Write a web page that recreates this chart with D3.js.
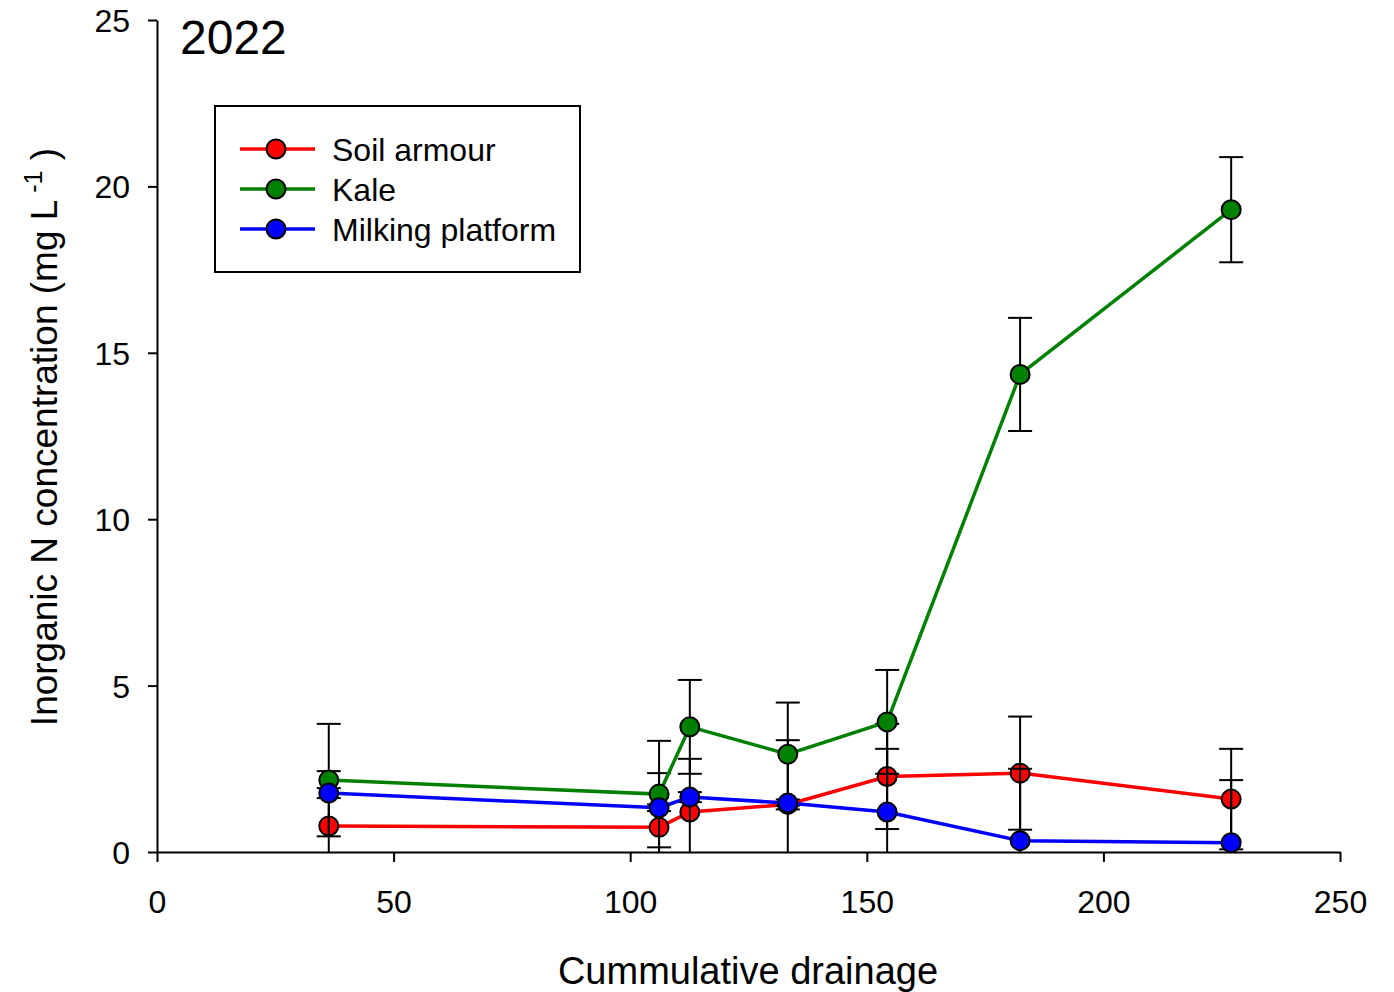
<!DOCTYPE html>
<html>
<head>
<meta charset="utf-8">
<script src="https://cdn.jsdelivr.net/npm/d3@7"></script>
<style>
  body { margin: 0; background: #fff; }
  svg { font-family: Arial, "Liberation Sans", sans-serif; }
</style>
</head>
<body>
<svg id="chart"></svg>
<script>
// cumulative drainage at each sampling
const drainage = [36.3, 106.1, 112.6, 133.3, 154.3, 182.4, 227.0];

const soilArmour = [0.78, 0.74, 1.20, 1.43, 2.27, 2.37, 1.59];
const soilArmourErr = [1.65, 1.63, 1.60, 0.15, 1.58, 1.70, 1.51];

const kale = [2.16, 1.74, 3.76, 2.94, 3.91, 14.35, 19.30];
const kaleErr = [1.69, 1.60, 1.41, 1.55, 1.56, 1.70, 1.58];

const milking = [1.77, 1.33, 1.65, 1.47, 1.20, 0.34, 0.28];
const milkingErr = [0.15, 0.10, 0.15, 1.89, 1.90, 2.16, 1.88];

const xTicks = [0, 50, 100, 150, 200, 250];
const yTicks = [0, 5, 10, 15, 20, 25];

const series = [
  { name: "Soil armour", color: "#ff0000", values: soilArmour, err: soilArmourErr },
  { name: "Kale", color: "#008000", values: kale, err: kaleErr },
  { name: "Milking platform", color: "#0000ff", values: milking, err: milkingErr }
];

const width = 1394, height = 992;
const svg = d3.select("#chart").attr("width", width).attr("height", height);

const x = d3.scaleLinear().domain([0, 250]).range([157, 1340]);
const y = d3.scaleLinear().domain([0, 25]).range([852, 20]);

// axes
const xAxis = svg.append("g")
  .attr("transform", `translate(0,${y(0)})`)
  .call(d3.axisBottom(x).tickValues(xTicks).tickSize(10).tickPadding(28).tickSizeOuter(0));
const yAxis = svg.append("g")
  .attr("transform", `translate(${x(0)},0)`)
  .call(d3.axisLeft(y).tickValues(yTicks).tickSize(9).tickPadding(18).tickSizeOuter(0));

[xAxis, yAxis].forEach(a => {
  a.select(".domain").attr("stroke", "#000").attr("stroke-width", 2);
  a.selectAll(".tick line").attr("stroke", "#000").attr("stroke-width", 2);
  a.selectAll(".tick text").attr("fill", "#000").style("font-size", "32px")
    .style("font-family", "Arial, 'Liberation Sans', sans-serif");
});
yAxis.selectAll(".tick text").attr("dy", "0.36em");

// axis titles
svg.append("text")
  .attr("x", 748).attr("y", 984)
  .attr("text-anchor", "middle")
  .style("font-size", "38px")
  .text("Cummulative drainage");

const yt = svg.append("text")
  .attr("transform", "translate(57,437) rotate(-90)")
  .attr("text-anchor", "middle")
  .style("font-size", "37px");
yt.append("tspan").text("Inorganic N concentration (mg L");
yt.append("tspan").attr("dy", "-15").style("font-size", "25px").text(" -1");
yt.append("tspan").attr("dy", "15").text(" )");

svg.append("text")
  .attr("x", 180).attr("y", 54)
  .style("font-size", "48px")
  .text("2022");

const line = d3.line().x((d, i) => x(drainage[i])).y(d => y(d));

function drawLine(s) {
  svg.append("path")
    .datum(s.values)
    .attr("fill", "none")
    .attr("stroke", s.color)
    .attr("stroke-width", 3.5)
    .attr("d", line);
}
function drawMarkers(s) {
  svg.append("g").selectAll("circle")
    .data(s.values)
    .join("circle")
    .attr("cx", (d, i) => x(drainage[i]))
    .attr("cy", d => y(d))
    .attr("r", 9.5)
    .attr("fill", s.color)
    .attr("stroke", "#000")
    .attr("stroke-width", 2);
}
function drawErrors(s) {
  const g = svg.append("g").attr("stroke", "#000").attr("stroke-width", 2);
  s.values.forEach((v, i) => {
    const cx = x(drainage[i]);
    const hi = v + s.err[i];
    const lo = Math.max(0, v - s.err[i]);
    g.append("line").attr("x1", cx).attr("x2", cx).attr("y1", y(hi)).attr("y2", y(lo));
    g.append("line").attr("x1", cx - 12).attr("x2", cx + 12).attr("y1", y(hi)).attr("y2", y(hi));
    if (v - s.err[i] > 0) {
      g.append("line").attr("x1", cx - 12).attr("x2", cx + 12).attr("y1", y(lo)).attr("y2", y(lo));
    }
  });
}

// draw order: soil armour under the error bars, others above
drawLine(series[0]);
drawMarkers(series[0]);
series.forEach(drawErrors);
drawLine(series[1]);
drawMarkers(series[1]);
drawLine(series[2]);
drawMarkers(series[2]);

// legend
const legend = svg.append("g");
legend.append("rect")
  .attr("x", 215).attr("y", 106).attr("width", 365).attr("height", 166)
  .attr("fill", "#fff").attr("stroke", "#000").attr("stroke-width", 2);
series.forEach((s, i) => {
  const ly = 149 + i * 40;
  legend.append("line").attr("x1", 240).attr("x2", 315).attr("y1", ly).attr("y2", ly)
    .attr("stroke", s.color).attr("stroke-width", 3.5);
  legend.append("circle").attr("cx", 276).attr("cy", ly).attr("r", 9.5)
    .attr("fill", s.color).attr("stroke", "#000").attr("stroke-width", 2);
  legend.append("text").attr("x", 332).attr("y", ly).attr("dy", "0.36em")
    .style("font-size", "32px").text(s.name);
});
</script>
</body>
</html>
